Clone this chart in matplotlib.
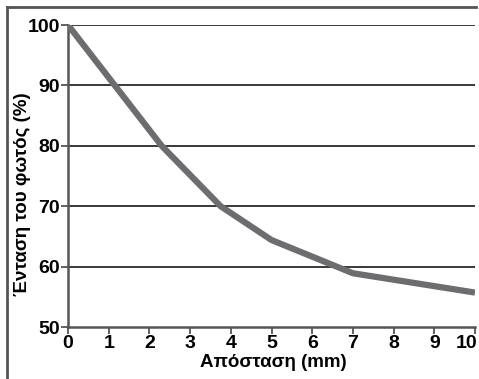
import matplotlib
matplotlib.use("Agg")
import matplotlib.pyplot as plt
from matplotlib.lines import Line2D
from matplotlib.transforms import ScaledTranslation

distance = [0, 2.3, 3.75, 5, 7, 10]
intensity = [100, 80, 70, 64.4, 58.9, 55.7]
xticks = [0, 1, 2, 3, 4, 5, 6, 7, 8, 9, 10]
yticks = [50, 60, 70, 80, 90, 100]

W, H = 479, 379
fig = plt.figure(figsize=(W / 100, H / 100), dpi=100)
ax = fig.add_axes([68 / W, 1 - 327 / H, (475 - 68) / W, (327 - 25) / H])

for y in yticks[1:]:
    ax.axhline(y, color="#2a2a2a", lw=1.3, zorder=1)

ax.plot(distance, intensity, color="#6d6d70", lw=4.5, solid_capstyle="butt", zorder=3)

ax.set_xlim(0, 10)
ax.set_ylim(50, 100)
ax.set_xticks(xticks)
ax.set_yticks(yticks)
tick_font = dict(family=["Liberation Sans", "DejaVu Sans"], weight="bold", size=14)
ax.set_xticklabels([str(t) for t in xticks], **tick_font)
ax.set_yticklabels([str(t) for t in yticks], **tick_font)
ax.tick_params(axis="both", length=5, width=1.3, color="#555555", direction="out", pad=1)
last = ax.get_xticklabels()[-1]
last.set_transform(last.get_transform() + ScaledTranslation(-8 / 100, 0, fig.dpi_scale_trans))
for s in ["top", "right"]:
    ax.spines[s].set_visible(False)
for s in ["left", "bottom"]:
    ax.spines[s].set_color("#555555")
    ax.spines[s].set_linewidth(1.8)

label_font = dict(family=["Liberation Sans", "DejaVu Sans"], weight="bold", size=13.5)
ax.set_xlabel("Απόσταση (mm)", **label_font)
ax.set_ylabel("Ένταση του φωτός (%)", **label_font)
ax.xaxis.set_label_coords(0.504, -0.118)
ax.xaxis.label.set_va("center")
ax.yaxis.set_label_coords(-0.113, 0.439)
ax.yaxis.label.set_va("center")

# outer frame (top and left edges)
fig.add_artist(Line2D([7 / W, 7 / W], [0, 1 - 7 / H], color="#555555", lw=2, transform=fig.transFigure))
fig.add_artist(Line2D([7 / W, 476 / W], [1 - 7 / H, 1 - 7 / H], color="#555555", lw=2, transform=fig.transFigure))

fig.savefig("out.png", dpi=100)
